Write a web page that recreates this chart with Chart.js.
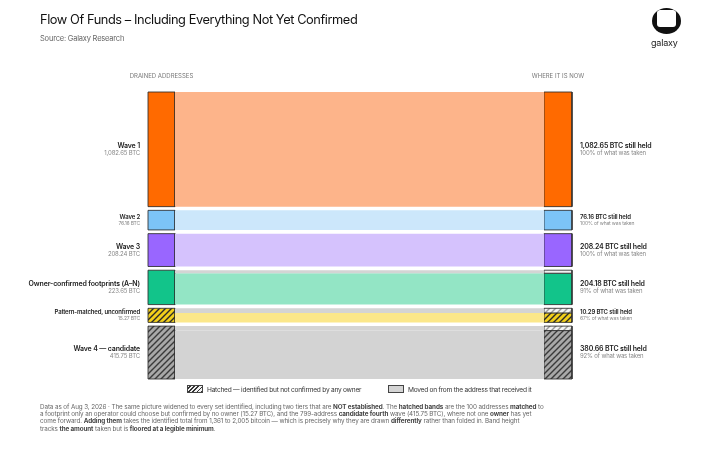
<!DOCTYPE html>
<html>
<head>
<meta charset="utf-8">
<script src="https://cdn.jsdelivr.net/npm/chart.js@4.4.1/dist/chart.umd.min.js"></script>
<style>
  body { margin: 0; background: #fff; font-family: Inter, "Liberation Sans", sans-serif; }
  #wrap { position: relative; width: 720px; height: 460px; overflow: hidden; }
  #wrap canvas { position: absolute; left: 0; top: 0; }
  .title { position: absolute; left: 40px; top: 12px; font-size: 12.8px; letter-spacing: -0.42px; color: #111; }
  .source { position: absolute; left: 40px; top: 34px; font-size: 7.5px; letter-spacing: -0.2px; color: #666; }
  .logo { position: absolute; left: 652px; top: 8px; width: 29px; height: 26px; border-radius: 50%; background: #111; overflow: hidden; }
  .logo .inner { position: absolute; left: 5px; top: 2px; width: 19px; height: 17px; background: #fff; border-radius: 3px; }
  .logo-text { position: absolute; left: 651px; top: 37px; font-size: 9px; color: #222; letter-spacing: -0.2px; }
  .legend { position: absolute; top: 385px; font-size: 6.6px; color: #333; letter-spacing: -0.25px; white-space: nowrap; }
  .sw { display: inline-block; width: 14px; height: 6px; border: 1px solid #444; vertical-align: -1px; margin-right: 4px; }
  .sw.hatch { background: repeating-linear-gradient(-45deg, #333 0 1.2px, #f0f0f0 1.2px 3px); }
  .sw.moved { background: #d4d4d4; }
  .note { position: absolute; left: 40px; top: 404px; font-size: 6.3px; line-height: 7.2px; color: #666; letter-spacing: -0.1px; white-space: nowrap; }
  .note b { color: #444; }
</style>
</head>
<body>
<div id="wrap">
  <canvas id="flowChart" width="720" height="460"></canvas>
  <div class="title">Flow Of Funds – Including Everything Not Yet Confirmed</div>
  <div class="source">Source: Galaxy Research</div>
  <div class="logo"><div class="inner"></div></div>
  <div class="logo-text">galaxy</div>
  <div class="legend" style="left:187px"><span class="sw hatch"></span>Hatched — identified but not confirmed by any owner</div>
  <div class="legend" style="left:388px"><span class="sw moved"></span>Moved on from the address that received it</div>
  <div class="note">
    Data as of Aug 3, 2026 · The same picture widened to every set identified, including two tiers that are <b>NOT established</b>. The <b>hatched bands</b> are the 100 addresses <b>matched</b> to<br>
    a footprint only an operator could choose but confirmed by no owner (15.27 BTC), and the 799-address <b>candidate fourth</b> wave (415.75 BTC), where not one <b>owner</b> has yet<br>
    come forward. <b>Adding them</b> takes the identified total from 1,361 to 2,005 bitcoin — which is precisely why they are drawn <b>differently</b> rather than folded in. Band height<br>
    tracks <b>the amount</b> taken but is <b>floored at a legible minimum</b>.
  </div>
</div>

<script>
// Bands, top to bottom
const bandNames = ['Wave 1', 'Wave 2', 'Wave 3', 'Owner-confirmed footprints (A–N)', 'Pattern-matched, unconfirmed', 'Wave 4 — candidate'];
const takenBtc = [1082.65, 76.16, 208.24, 223.65, 15.27, 415.75];
const heldBtc = [1082.65, 76.16, 208.24, 204.18, 10.29, 380.66];
const heldPct = [100, 100, 100, 91, 67, 92];
const isHatched = [false, false, false, false, true, true];

// Colours
const barColors = ['#ff6a00', '#7cc4f7', '#9966ff', '#12c48a', '#f4d11c', '#a0a0a0'];
const flowColors = ['#fdb48a', '#cce7fb', '#d5c2fd', '#93e5c5', '#fbe78a', '#d3d3d3'];
const movedColor = '#d4d4d4';
const edgeColor = 'rgba(45,45,45,0.85)';

// Layout in scale units (x axis = 0..424)
const X_MAX = 424, LEFT_W = 27, RIGHT_X = 396;
const GAP = 3.7;

// band height tracks the amount taken, floored at a legible minimum
function bandSize(v) {
    return Math.max(11.2 + 0.1347 * Math.pow(v, 0.95), 14);
}

function hatch(bg, line) {
    const c = document.createElement('canvas');
    const s = 6;
    c.width = s; c.height = s;
    const g = c.getContext('2d');
    g.fillStyle = bg;
    g.fillRect(0, 0, s, s);
    g.strokeStyle = line;
    g.lineWidth = 1.4;
    g.beginPath();
    g.moveTo(0, s); g.lineTo(s, 0);
    g.moveTo(-1, 1); g.lineTo(1, -1);
    g.moveTo(s - 1, s + 1); g.lineTo(s + 1, s - 1);
    g.stroke();
    return g.createPattern(c, 'repeat');
}

function rect(x0, x1, y0, y1) {
    return [{x: x0, y: y0}, {x: x1, y: y0}, {x: x1, y: y1}, {x: x0, y: y1}, {x: x0, y: y0}];
}

function shape(points, fillColor, border) {
    return {
        data: points,
        showLine: true,
        fill: 'shape',
        tension: 0,
        pointRadius: 0,
        pointHoverRadius: 0,
        backgroundColor: fillColor,
        borderColor: border ? edgeColor : 'rgba(0,0,0,0)',
        borderWidth: border ? 1 : 0,
        clip: false
    };
}

// work out where each band sits
const tops = [], bottoms = [];
let cursor = 0;
takenBtc.forEach((v, i) => {
    tops.push(cursor);
    cursor += bandSize(v);
    bottoms.push(cursor);
    if (i < takenBtc.length - 1) cursor += GAP;
});
const Y_MAX = cursor;

const datasets = [];
takenBtc.forEach((v, i) => {
    const top = tops[i], bot = bottoms[i];
    const movedEnd = top + (bot - top) * (1 - heldBtc[i] / v);
    const barFill = isHatched[i]
        ? (i === 4 ? hatch('#f2cf1a', '#2a2a2a') : hatch('#a8a8a8', '#3a3a3a'))
        : barColors[i];
    // flow
    if (movedEnd > top + 0.01) datasets.push(shape(rect(LEFT_W, RIGHT_X, top, movedEnd), movedColor, false));
    datasets.push(shape(rect(LEFT_W, RIGHT_X, movedEnd, bot), flowColors[i], false));
    // left bar
    datasets.push(shape(rect(0, LEFT_W, top, bot), barFill, true));
    // right bar
    if (movedEnd > top + 0.01) {
        const lightFill = isHatched[i] ? hatch('#f4f4f4', '#9a9a9a') : '#f3f3f3';
        datasets.push(shape(rect(RIGHT_X, X_MAX, top, movedEnd), lightFill, true));
    }
    datasets.push(shape(rect(RIGHT_X, X_MAX, movedEnd, bot), barFill, true));
});

function fmt(v) {
    return v.toLocaleString('en-US', {minimumFractionDigits: 2, maximumFractionDigits: 2});
}

// Side labels and column headers
const labelPlugin = {
    id: 'sideLabels',
    afterDraw(chart) {
        const {ctx, scales} = chart;
        const x = scales.x, y = scales.y;
        ctx.save();
        ctx.textBaseline = 'middle';
        ctx.fillStyle = '#777';
        ctx.font = '6px Inter, "Liberation Sans", sans-serif';
        ctx.textAlign = 'center';
        ctx.fillText('DRAINED ADDRESSES', x.getPixelForValue(LEFT_W / 2), 76);
        ctx.fillText('WHERE IT IS NOW', x.getPixelForValue((RIGHT_X + X_MAX) / 2), 76);

        bandNames.forEach((name, i) => {
            const yTop = y.getPixelForValue(tops[i]);
            const yBot = y.getPixelForValue(bottoms[i]);
            const cy = (yTop + yBot) / 2;
            const small = (yBot - yTop) < 22;
            const nameSize = small ? 6 : 7;
            const subSize = small ? 5 : 6;
            const off = small ? 3 : 3.6;

            ctx.letterSpacing = '-0.15px';
            // left
            const lx = x.getPixelForValue(0) - 8;
            ctx.textAlign = 'right';
            ctx.fillStyle = '#222';
            ctx.font = '600 ' + nameSize + 'px Inter, "Liberation Sans", sans-serif';
            ctx.fillText(name, lx, cy - off);
            ctx.fillStyle = '#888';
            ctx.font = subSize + 'px Inter, "Liberation Sans", sans-serif';
            ctx.fillText(fmt(takenBtc[i]) + ' BTC', lx, cy + off + 0.5);

            // right
            const rx = x.getPixelForValue(X_MAX) + 8;
            ctx.textAlign = 'left';
            ctx.fillStyle = '#222';
            ctx.font = '600 ' + nameSize + 'px Inter, "Liberation Sans", sans-serif';
            ctx.fillText(fmt(heldBtc[i]) + ' BTC still held', rx, cy - off);
            ctx.fillStyle = '#888';
            ctx.font = subSize + 'px Inter, "Liberation Sans", sans-serif';
            ctx.fillText(heldPct[i] + '% of what was taken', rx, cy + off + 0.5);
        });
        ctx.restore();
    }
};

new Chart(document.getElementById('flowChart'), {
    type: 'scatter',
    data: { datasets: datasets },
    options: {
        responsive: false,
        animation: false,
        events: [],
        layout: { padding: { left: 148, right: 148, top: 92, bottom: 81 } },
        plugins: {
            legend: { display: false },
            tooltip: { enabled: false }
        },
        scales: {
            x: { type: 'linear', min: 0, max: X_MAX, display: false },
            y: { type: 'linear', min: 0, max: Y_MAX, reverse: true, display: false }
        }
    },
    plugins: [labelPlugin]
});
</script>
</body>
</html>
